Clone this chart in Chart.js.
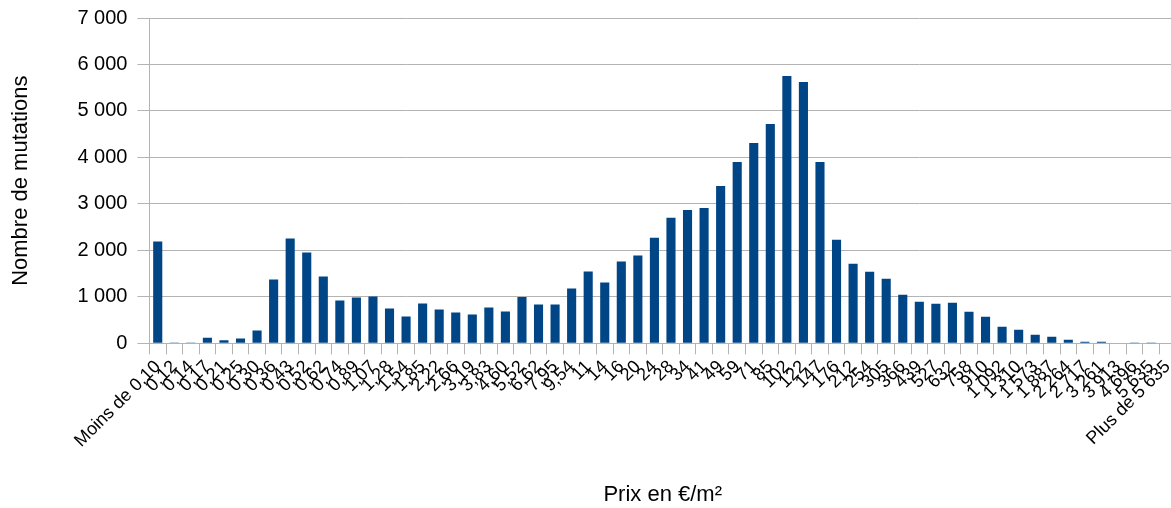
<!DOCTYPE html>
<html>
<head>
<meta charset="utf-8">
<script src="https://cdn.jsdelivr.net/npm/chart.js@4/dist/chart.umd.min.js"></script>
<style>
  html, body { margin: 0; padding: 0; background: #fff; overflow: hidden; }
  #wrap { width: 1185px; height: 508px; }
</style>
</head>
<body>
<div id="wrap"><canvas id="mycanvas" width="1185" height="508"></canvas></div>
<script>
// price classes (€/m²), each label is the upper bound of the class
var priceLabels = [
  "Moins de 0,10", "0,12", "0,14", "0,17", "0,21", "0,25", "0,30", "0,36", "0,43", "0,52",
  "0,62", "0,74", "0,89", "1,07", "1,28", "1,54", "1,85", "2,22", "2,66", "3,19",
  "3,83", "4,60", "5,52", "6,62", "7,95", "9,54", "11", "14", "16", "20",
  "24", "28", "34", "41", "49", "59", "71", "85", "102", "122",
  "147", "176", "212", "254", "305", "366", "439", "527", "632", "758",
  "910", "1 092", "1 310", "1 573", "1 887", "2 264", "2 717", "3 261", "3 913", "4 696",
  "5 635", "Plus de 5 635"
];

// number of mutations per class
var mutations = [
  2190, 20, 20, 122, 65, 107, 279, 1375, 2256, 1956,
  1440, 924, 988, 1010, 752, 580, 860, 731, 666, 623,
  774, 688, 996, 838, 838, 1182, 1547, 1311, 1762, 1891,
  2271, 2701, 2872, 2915, 3388, 3904, 4312, 4721, 5752, 5623,
  3904, 2228, 1712, 1540, 1390, 1046, 895, 852, 874, 680,
  573, 358, 294, 186, 143, 79, 36, 36, 14, 5,
  5, 14
];

var yMin = 0;
var yMax = 7000;
var yStep = 1000;

function fmt(v) {
  return String(v).replace(/\B(?=(\d{3})+(?!\d))/g, " ");
}

var ctx = document.getElementById("mycanvas");

var barGraph = new Chart(ctx, {
  type: "bar",
  data: {
    labels: priceLabels,
    datasets: [{
      label: "Nombre de mutations",
      data: mutations,
      backgroundColor: "#004586",
      borderWidth: 0,
      barPercentage: 0.55,
      categoryPercentage: 1.0
    }]
  },
  options: {
    responsive: false,
    animation: false,
    layout: { padding: { left: 8, right: 8, top: 0, bottom: 0 } },
    plugins: {
      legend: { display: false },
      tooltip: { enabled: false }
    },
    scales: {
      x: {
        offset: true,
        grid: {
          offset: true,
          drawOnChartArea: false,
          drawTicks: true,
          tickLength: 11,
          color: "#b3b3b3"
        },
        border: { color: "#b3b3b3" },
        ticks: {
          autoSkip: false,
          maxRotation: 45,
          minRotation: 45,
          padding: 2,
          color: "#000",
          font: { family: "Liberation Sans", size: 18 }
        },
        title: {
          display: true,
          text: "Prix en €/m²",
          color: "#000",
          font: { family: "Liberation Sans", size: 22 },
          padding: { top: 28, bottom: 0 }
        }
      },
      y: {
        min: yMin,
        max: yMax,
        grid: {
          color: "#b3b3b3",
          tickLength: 12
        },
        border: { color: "#b3b3b3" },
        ticks: {
          stepSize: yStep,
          padding: 10,
          color: "#000",
          font: { family: "Liberation Sans", size: 20, lineHeight: 0.8 },
          callback: function(v) { return fmt(v); }
        },
        title: {
          display: true,
          text: "Nombre de mutations",
          color: "#000",
          font: { family: "Liberation Sans", size: 22 },
          padding: { top: 0, bottom: 33 }
        }
      }
    }
  }
});
</script>
</body>
</html>
